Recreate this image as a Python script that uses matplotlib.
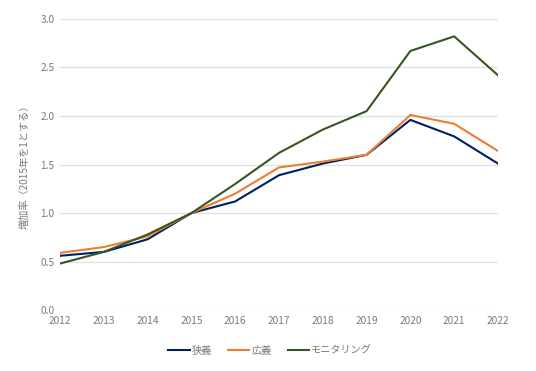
import matplotlib
matplotlib.use("Agg")
import matplotlib.pyplot as plt

plt.rcParams['font.family'] = ['Noto Sans CJK JP', 'DejaVu Sans']

years = [2012, 2013, 2014, 2015, 2016, 2017, 2018, 2019, 2020, 2021, 2022]
narrow = [0.56, 0.60, 0.73, 1.00, 1.12, 1.39, 1.51, 1.60, 1.96, 1.79, 1.51]
broad = [0.59, 0.65, 0.76, 1.00, 1.20, 1.47, 1.53, 1.60, 2.01, 1.92, 1.64]
monitoring = [0.48, 0.60, 0.78, 1.00, 1.30, 1.62, 1.86, 2.05, 2.67, 2.82, 2.42]
labels = ['狭義', '広義', 'モニタリング']
colors = ['#002060', '#ED7D31', '#375623']
yticks = [0.0, 0.5, 1.0, 1.5, 2.0, 2.5, 3.0]

fig = plt.figure(figsize=(5.36, 3.71), dpi=100)
ax = fig.add_axes([0.112, 0.164, 0.817, 0.785])
for s, lab, c in zip([narrow, broad, monitoring], labels, colors):
    ax.plot(years, s, color=c, lw=1.5, label=lab)

ax.set_xlim(years[0], years[-1])
ax.set_ylim(0, 3.0)
ax.set_yticks(yticks)
ax.set_yticklabels([f"{v:.1f}" for v in yticks])
ax.set_xticks(years)
ax.grid(axis='y', color='#E0E0E0', lw=0.9)
ax.set_axisbelow(True)
for sp in ax.spines.values():
    sp.set_visible(False)
ax.tick_params(length=0, labelsize=7.3, colors='#7A7A7A', pad=4)
ax.set_ylabel('増加率（2015年を1とする）', fontsize=7.3, color='#7A7A7A', labelpad=8)

fig.legend(loc='center', bbox_to_anchor=(0.504, 0.055), ncol=3, frameon=False,
           fontsize=7.3, labelcolor='#7A7A7A', handlelength=2.1, handletextpad=0.2,
           columnspacing=1.6)
fig.savefig('out.png', dpi=100)
